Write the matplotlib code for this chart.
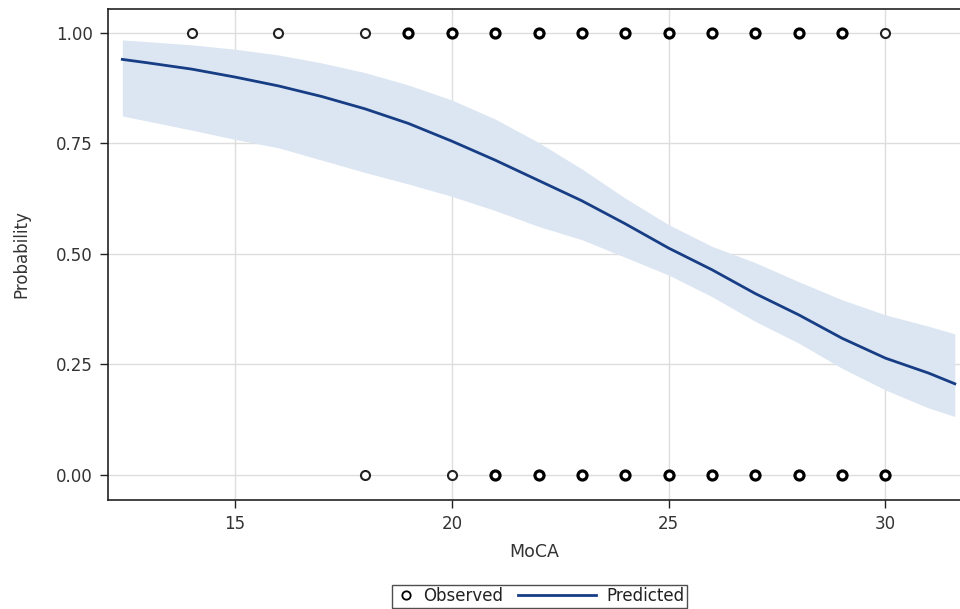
"""Logistic fit of probability vs MoCA with 95% band and observed outcomes."""
import matplotlib
matplotlib.use("Agg")
import matplotlib.pyplot as plt
from matplotlib.lines import Line2D
from matplotlib.legend_handler import HandlerLine2D

plt.rcParams["font.family"] = ["DejaVu Sans"]

# predicted curve and confidence limits
moca = [12.4, 13, 14, 15, 16, 17, 18, 19, 20, 21, 22, 23, 24, 25, 26, 27, 28, 29, 30, 31, 31.6]
pred = [0.940, 0.932, 0.918, 0.900, 0.880, 0.856, 0.828, 0.795, 0.755, 0.712, 0.666, 0.620, 0.568,
        0.513, 0.464, 0.410, 0.362, 0.309, 0.264, 0.230, 0.206]
upper = [0.984, 0.980, 0.973, 0.963, 0.950, 0.932, 0.910, 0.882, 0.848, 0.805, 0.752, 0.692, 0.626,
         0.566, 0.517, 0.480, 0.437, 0.396, 0.362, 0.336, 0.319]
lower = [0.812, 0.800, 0.780, 0.759, 0.740, 0.712, 0.684, 0.658, 0.630, 0.598, 0.562, 0.532, 0.492,
         0.452, 0.403, 0.347, 0.298, 0.241, 0.192, 0.151, 0.132]

# observed outcomes (bold = several overlapping subjects)
obs1_x = [14, 16, 18, 19, 20, 21, 22, 23, 24, 25, 26, 27, 28, 29, 30]
obs1_bold = [0, 0, 0, 1, 1, 1, 1, 1, 1, 1, 1, 1, 1, 1, 0]
obs0_x = [18, 20, 21, 22, 23, 24, 25, 26, 27, 28, 29, 30]
obs0_bold = [0, 0, 1, 1, 1, 1, 1, 1, 1, 1, 1, 1]

xticks = [15, 20, 25, 30]
yticks = [0.0, 0.25, 0.5, 0.75, 1.0]

BAND = "#dce6f2"
LINE = "#173d85"
TXT = "#333333"


class LongLine(HandlerLine2D):
    """legend line that reaches left of its (short) handle box"""
    def create_artists(self, legend, orig_handle, xdescent, ydescent, width, height, fontsize, trans):
        y = height / 2 - ydescent
        ln = Line2D([-3.6 * fontsize, width - 0.3 * fontsize], [y, y])
        self.update_prop(ln, orig_handle, legend)
        ln.set_transform(trans)
        return [ln]


fig = plt.figure(figsize=(9.6, 6.09), dpi=100)
ax = fig.add_axes([108 / 960, 1 - 500 / 609, 852 / 960, 491 / 609])

ax.fill_between(moca, lower, upper, color=BAND, lw=0, zorder=1)
ax.plot(moca, pred, color=LINE, lw=2, zorder=3)
for xs, bold, yv in [(obs1_x, obs1_bold, 1.0), (obs0_x, obs0_bold, 0.0)]:
    for x, b in zip(xs, bold):
        ax.plot([x], [yv], "o", ms=6.5, mfc="white", mec="black" if b else "#222222",
                mew=2.3 if b else 1.5, zorder=4)

ax.set_xlim(12.07, 31.72)
ax.set_ylim(-0.057, 1.054)
ax.set_xticks(xticks)
ax.set_yticks(yticks)
ax.set_yticklabels(["%.2f" % v for v in yticks])
ax.grid(True, color="#dddddd", lw=1, zorder=0)
ax.set_axisbelow(True)
ax.spines["right"].set_visible(False)
for s in ["left", "top", "bottom"]:
    ax.spines[s].set_color("#222222")
    ax.spines[s].set_linewidth(1.2)
ax.tick_params(length=6, width=1, color="#222222", labelsize=12, labelcolor=TXT, pad=5)
ax.set_xlabel("MoCA", fontsize=12.5, color=TXT, labelpad=7)
ax.set_ylabel("Probability", fontsize=12, color=TXT, labelpad=18)

obs_h = Line2D([], [], ls="none", marker="o", ms=6, mfc="white", mec="black", mew=1.3)
pred_h = Line2D([], [], color=LINE, lw=2)
leg = fig.legend([obs_h, pred_h], ["Observed", "Predicted"], loc="center",
                 bbox_to_anchor=(539.5 / 960, 1 - 596 / 609), ncol=2, frameon=True, fancybox=False,
                 fontsize=12, handlelength=1.4, handletextpad=0.3, columnspacing=4.5,
                 borderpad=0.15, borderaxespad=0, handler_map={pred_h: LongLine()})
leg.get_frame().set_edgecolor("#222222")
leg.get_frame().set_linewidth(1)
for t in leg.get_texts():
    t.set_color("#222222")

fig.savefig("out.png", dpi=100)
print("wrote out.png")
